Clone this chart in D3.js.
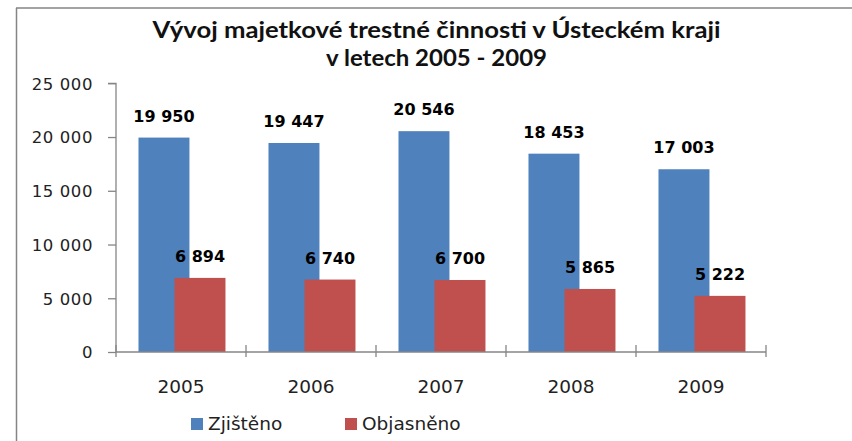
<!DOCTYPE html>
<html>
<head>
<meta charset="utf-8">
<script src="https://cdn.jsdelivr.net/npm/d3@7"></script>
<style>
  html, body { margin: 0; padding: 0; background: #fff; }
  svg { display: block; }
</style>
</head>
<body>
<svg id="chart" width="852" height="441"></svg>
<script>
const titleLines = ["Vývoj majetkové trestné činnosti v Ústeckém kraji", "v letech 2005 - 2009"];
const categories = ["2005", "2006", "2007", "2008", "2009"];
const seriesNames = ["Zjištěno", "Objasněno"];
const zjisteno = [19950, 19447, 20546, 18453, 17003];
const objasneno = [6894, 6740, 6700, 5865, 5222];
const yTicks = [0, 5000, 10000, 15000, 20000, 25000];
const colors = ["#4F81BD", "#C0504D"];

const seriesValues = [zjisteno, objasneno];
const locale = d3.formatLocale({decimal: ",", thousands: " ", grouping: [3], currency: ["", " Kč"]});
const fmt = locale.format(",d");

const svg = d3.select("#chart");

// outer frame
svg.append("line").attr("x1", 16).attr("x2", 852).attr("y1", 8).attr("y2", 8)
  .attr("stroke", "#858585").attr("stroke-width", 1.5);
svg.append("line").attr("x1", 16.5).attr("x2", 16.5).attr("y1", 8).attr("y2", 441)
  .attr("stroke", "#858585").attr("stroke-width", 1.5);

// title
const titleWidths = [568, 221];
const titleY = [38, 66];
titleLines.forEach((t, i) => {
  svg.append("text")
    .attr("x", 436.5).attr("y", titleY[i])
    .attr("text-anchor", "middle")
    .attr("font-family", "Lato, 'Open Sans', sans-serif")
    .attr("font-weight", "bold")
    .attr("font-size", 23)
    .attr("fill", "#111")
    .attr("textLength", titleWidths[i])
    .attr("lengthAdjust", "spacingAndGlyphs")
    .text(t);
});

const plot = {left: 116, right: 766, top: 83.3, bottom: 352};
const x = d3.scaleBand().domain(categories).range([plot.left, plot.right]).padding(0);
const y = d3.scaleLinear().domain([0, 25000]).range([plot.bottom, plot.top]);
const barW = x.bandwidth() * 0.392;
const offset = d3.scaleLinear().domain([0, 1]).range([x.bandwidth() * 0.173, x.bandwidth() * 0.45]);

// y axis
const yAxis = d3.axisLeft(y).tickValues(yTicks).tickFormat(fmt).tickSize(8).tickPadding(15);
const gy = svg.append("g").attr("transform", `translate(${plot.left},0)`).call(yAxis);
gy.select(".domain").attr("stroke", "#868686").attr("stroke-width", 1.3).attr("d", `M-8,${plot.top}H0V${plot.bottom}`);
gy.selectAll(".tick line").attr("stroke", "#868686").attr("stroke-width", 1.3);
gy.selectAll(".tick text")
  .attr("font-family", "'DejaVu Sans', sans-serif")
  .attr("font-size", 16.5)
  .attr("letter-spacing", 0.6)
  .attr("fill", "#222")
  .attr("dy", "0.36em");

// bars
seriesValues.forEach((vals, si) => {
  svg.append("g").selectAll("rect").data(vals).join("rect")
    .attr("x", (d, i) => x(categories[i]) + offset(si))
    .attr("width", barW)
    .attr("y", d => y(d))
    .attr("height", d => y(0) - y(d))
    .attr("fill", colors[si]);
});

// x axis
const xAxis = d3.axisBottom(x).tickSize(0).tickPadding(0).tickFormat(d => d);
const gx = svg.append("g").attr("transform", `translate(0,${plot.bottom})`).call(xAxis);
gx.select(".domain").attr("stroke", "#868686").attr("stroke-width", 1.3).attr("d", `M${plot.left},0H${plot.right}`);
gx.selectAll(".tick line").remove();
gx.selectAll(".tick text")
  .attr("font-family", "'DejaVu Sans', sans-serif")
  .attr("font-size", 18.5)
  .attr("fill", "#222")
  .attr("y", 41)
  .attr("dy", 0);
// category boundary ticks
const bounds = categories.map(c => x(c)).concat([plot.right]);
svg.append("g").selectAll("line").data(bounds).join("line")
  .attr("x1", d => d).attr("x2", d => d)
  .attr("y1", plot.bottom - 7).attr("y2", plot.bottom + 5)
  .attr("stroke", "#868686").attr("stroke-width", 1.3);

// data labels
seriesValues.forEach((vals, si) => {
  svg.append("g").selectAll("text").data(vals).join("text")
    .attr("x", (d, i) => x(categories[i]) + offset(si) + barW / 2)
    .attr("y", d => y(d) - 16)
    .attr("text-anchor", "middle")
    .attr("font-family", "'DejaVu Sans', sans-serif")
    .attr("font-weight", "bold")
    .attr("font-size", 16)
    .attr("fill", "#000")
    .text(d => fmt(d));
});

// legend
const legendX = [191, 345];
seriesNames.forEach((name, i) => {
  const g = svg.append("g").attr("transform", `translate(${legendX[i]},418)`);
  g.append("rect").attr("width", 12).attr("height", 12).attr("fill", colors[i]);
  g.append("text").attr("x", 17).attr("y", 12)
    .attr("font-family", "'DejaVu Sans', sans-serif")
    .attr("font-size", 18.5)
    .attr("fill", "#222")
    .text(name);
});
</script>
</body>
</html>
